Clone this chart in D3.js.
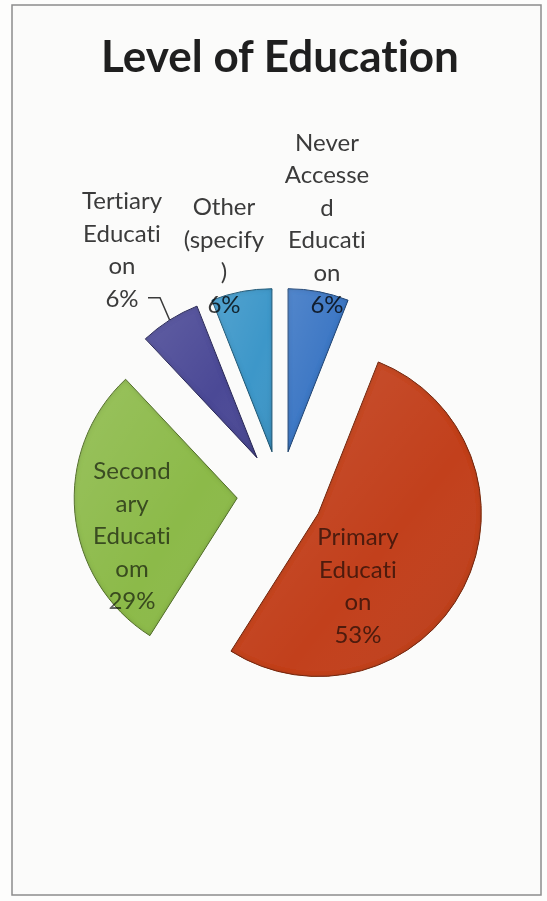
<!DOCTYPE html>
<html>
<head>
<meta charset="utf-8">
<script src="https://cdnjs.cloudflare.com/ajax/libs/d3/7.8.5/d3.min.js"></script>
<style>
  html, body { margin: 0; padding: 0; background: #fdfdfc; }
  svg { display: block; }
  text {
    font-family: Lato, "Open Sans", sans-serif;
    font-variant-ligatures: none;
    font-feature-settings: "liga" 0, "clig" 0;
  }
</style>
</head>
<body>
<svg id="chart" width="547" height="901"></svg>
<script>
// Survey responses: highest level of education reached
const categories = [
  "Never Accessed Education",
  "Primary Education",
  "Secondary Educatiom",
  "Tertiary Education",
  "Other (specify)"
];
const percents = [6, 53, 29, 6, 6];

// Wrapped category text as it appears in the data labels
const labelLines = [
  ["Never", "Accesse", "d", "Educati", "on"],
  ["Primary", "Educati", "on"],
  ["Second", "ary", "Educati", "om"],
  ["Tertiary", "Educati", "on"],
  ["Other", "(specify", ")"]
];

const sliceColors = ["#3b76c4", "#c2411f", "#8cba4a", "#4b4996", "#3c97c9"];

// ---- layout ----
const frame = { x: 12, y: 5, w: 529, h: 890 };
const center = { x: 280, y: 494 };
const radius = 163;
const explode = 43;
const fontSize = 24;
const lineGap = 32.5;
// label block centres (x, y) and whether the label sits inside its slice
const labelPlacement = [
  { x: 327, y: 224, inside: false },
  { x: 358, y: 586, inside: true },
  { x: 132, y: 536, inside: true },
  { x: 122, y: 250, inside: false, leader: true },
  { x: 224, y: 256, inside: false }
];

const svg = d3.select("#chart");

// bevelled look: darkened inner edge of each slice
const defs = svg.append("defs");
const bevel = defs.append("filter").attr("id", "bevel")
  .attr("x", "-10%").attr("y", "-10%").attr("width", "120%").attr("height", "120%");
bevel.append("feGaussianBlur").attr("in", "SourceAlpha").attr("stdDeviation", 2.5).attr("result", "blur");
bevel.append("feComposite").attr("in", "SourceAlpha").attr("in2", "blur")
  .attr("operator", "arithmetic").attr("k2", 1).attr("k3", -1).attr("result", "edge");
bevel.append("feFlood").attr("flood-color", "#000").attr("flood-opacity", 0.4);
bevel.append("feComposite").attr("in2", "edge").attr("operator", "in").attr("result", "shade");
const merge = bevel.append("feMerge");
merge.append("feMergeNode").attr("in", "SourceGraphic");
merge.append("feMergeNode").attr("in", "shade");

// soft top-left sheen on the slice faces
const sheen = defs.append("linearGradient").attr("id", "sheen")
  .attr("x1", 0).attr("y1", 0).attr("x2", 1).attr("y2", 1);
sheen.append("stop").attr("offset", "0%").attr("stop-color", "#fff").attr("stop-opacity", 0.12);
sheen.append("stop").attr("offset", "60%").attr("stop-color", "#fff").attr("stop-opacity", 0);
sheen.append("stop").attr("offset", "100%").attr("stop-color", "#000").attr("stop-opacity", 0.08);

// chart frame
svg.append("rect")
  .attr("x", frame.x).attr("y", frame.y).attr("width", frame.w).attr("height", frame.h)
  .attr("fill", "#fbfbfa").attr("stroke", "#8c8c8c").attr("stroke-width", 1.5);

// title
svg.append("text")
  .attr("x", 280).attr("y", 72)
  .attr("text-anchor", "middle")
  .attr("font-size", 44).attr("font-weight", 700)
  .attr("fill", "#1f1f1f")
  .text("Level of Education");

// pie
const pie = d3.pie().sort(null).value(d => d);
const arcs = pie(percents);
const arcGen = d3.arc().innerRadius(0).outerRadius(radius);

function offsetOf(a) {
  const mid = (a.startAngle + a.endAngle) / 2;
  return [explode * Math.sin(mid), -explode * Math.cos(mid)];
}

const slices = svg.append("g").attr("transform", `translate(${center.x},${center.y})`);
const sliceG = slices.selectAll("g.slice")
  .data(arcs)
  .join("g")
  .attr("class", "slice")
  .attr("transform", d => `translate(${offsetOf(d)})`);
sliceG.append("path")
  .attr("d", arcGen)
  .attr("fill", (d, i) => sliceColors[i])
  .attr("stroke", (d, i) => d3.color(sliceColors[i]).darker(1.3))
  .attr("stroke-width", 1)
  .attr("filter", "url(#bevel)");
sliceG.append("path")
  .attr("d", arcGen)
  .attr("fill", "url(#sheen)");

// leader line for the tertiary label
arcs.forEach((a, i) => {
  const p = labelPlacement[i];
  if (!p.leader) return;
  const [ox, oy] = offsetOf(a);
  const mid = (a.startAngle + a.endAngle) / 2;
  const ex = center.x + ox + radius * Math.sin(mid);
  const ey = center.y + oy - radius * Math.cos(mid);
  const n = labelLines[i].length + 1;
  const lastY = p.y + ((n - 1) / 2) * lineGap;
  const sx = p.x + 26, sy = lastY - 1;
  svg.append("path")
    .attr("d", d3.line()([[sx, sy], [sx + 12, sy], [ex, ey]]))
    .attr("fill", "none").attr("stroke", "#3a3a3a").attr("stroke-width", 1.5);
});

// data labels
const labels = svg.append("g");
arcs.forEach((a, i) => {
  const p = labelPlacement[i];
  const lines = labelLines[i].concat([percents[i] + "%"]);
  const n = lines.length;
  const t = labels.append("text")
    .attr("text-anchor", "middle")
    .attr("font-size", fontSize)
    .attr("fill", p.inside ? "#666666" : "#3c3c3c")
    .style("mix-blend-mode", "multiply");
  lines.forEach((s, k) => {
    t.append("tspan")
      .attr("x", p.x)
      .attr("y", p.y + (k - (n - 1) / 2) * lineGap + 8)
      .text(s);
  });
});
</script>
</body>
</html>
